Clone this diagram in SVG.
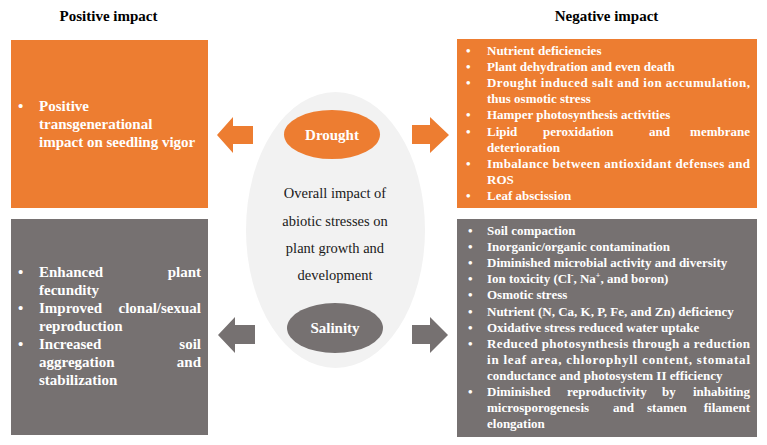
<svg xmlns="http://www.w3.org/2000/svg" width="767" height="445" viewBox="0 0 767 445">
<style>
.title{font-family:"Liberation Serif","Times New Roman",serif;font-weight:bold;font-size:15px;fill:#000;text-anchor:middle}
.b15{font-family:"Liberation Serif","Times New Roman",serif;font-weight:bold;font-size:15px;fill:#fff}
.b13{font-family:"Liberation Serif","Times New Roman",serif;font-weight:bold;font-size:13px;fill:#fff}
.ctr{font-family:"Liberation Serif","Times New Roman",serif;font-size:14.5px;fill:#1a1a1a;text-anchor:middle}
.lbl{font-family:"Liberation Serif","Times New Roman",serif;font-weight:bold;font-size:15px;fill:#fff;text-anchor:middle}
.end{text-anchor:end}
.or{fill:#ED7D31}
.gr{fill:#767171}
</style>
<rect width="767" height="445" fill="#fff"/>
<text class="title" x="108.5" y="21">Positive impact</text>
<text class="title" x="606.5" y="21">Negative impact</text>

<g id="center">
<ellipse cx="335.5" cy="230" rx="89.5" ry="138" fill="#F2F2F2"/>
<text class="ctr" x="335" y="198">Overall impact of</text>
<text class="ctr" x="335" y="226">abiotic stresses on</text>
<text class="ctr" x="335" y="253">plant growth and</text>
<text class="ctr" x="335" y="280">development</text>
</g>
<g id="drought">
<ellipse class="or" cx="332" cy="134.5" rx="48" ry="24.5"/>
<text class="lbl" x="332" y="140">Drought</text>
</g>
<g id="salinity">
<ellipse class="gr" cx="335" cy="328" rx="48" ry="25"/>
<text class="lbl" x="335" y="333">Salinity</text>
</g>

<g id="drought-positive">
<rect class="or" x="11" y="40" width="197" height="168"/>
<text class="b15" x="18" y="111">•</text>
<text class="b15" x="39" y="111">Positive</text>
<text class="b15" x="39" y="129">transgenerational</text>
<text class="b15" x="39" y="147">impact on seedling vigor</text>
</g>

<g id="salinity-positive">
<rect class="gr" x="11" y="219" width="197" height="216"/>
<text class="b15" x="18" y="277">•</text>
<text class="b15" x="39" y="277">Enhanced</text>
<text class="b15 end" x="201" y="277">plant</text>
<text class="b15" x="39" y="295">fecundity</text>
<text class="b15" x="18" y="313">•</text>
<text class="b15" x="39" y="313">Improved</text>
<text class="b15 end" x="201" y="313">clonal/sexual</text>
<text class="b15" x="39" y="331">reproduction</text>
<text class="b15" x="18" y="349">•</text>
<text class="b15" x="39" y="349">Increased</text>
<text class="b15 end" x="201" y="349">soil</text>
<text class="b15" x="39" y="367">aggregation</text>
<text class="b15 end" x="201" y="367">and</text>
<text class="b15" x="39" y="385">stabilization</text>
</g>

<g id="drought-negative">
<rect class="or" x="457" y="39" width="300" height="169"/>
<text class="b13" x="466" y="55">•</text>
<text class="b13" x="487" y="55">Nutrient deficiencies</text>
<text class="b13" x="466" y="71.1">•</text>
<text class="b13" x="487" y="71.1">Plant dehydration  and even death</text>
<text class="b13" x="466" y="87.2">•</text>
<text class="b13" x="487" y="87.2" textLength="263" lengthAdjust="spacing">Drought induced salt and ion accumulation,</text>
<text class="b13" x="487" y="103.3">thus osmotic stress</text>
<text class="b13" x="466" y="119.4">•</text>
<text class="b13" x="487" y="119.4">Hamper photosynthesis activities</text>
<text class="b13" x="466" y="135.5">•</text>
<text class="b13" x="487" y="135.5">Lipid</text>
<text class="b13" x="543" y="135.5">peroxidation</text>
<text class="b13" x="649" y="135.5">and</text>
<text class="b13 end" x="750" y="135.5">membrane</text>
<text class="b13" x="487" y="151.6">deterioration</text>
<text class="b13" x="466" y="167.7">•</text>
<text class="b13" x="487" y="167.7" textLength="263" lengthAdjust="spacing">Imbalance between antioxidant defenses and</text>
<text class="b13" x="487" y="183.8">ROS</text>
<text class="b13" x="466" y="199.9">•</text>
<text class="b13" x="487" y="199.9">Leaf abscission</text>
</g>

<g id="salinity-negative">
<rect class="gr" x="457" y="219" width="300" height="218"/>
<text class="b13" x="468" y="235">•</text>
<text class="b13" x="487" y="235">Soil compaction</text>
<text class="b13" x="468" y="251.1">•</text>
<text class="b13" x="487" y="251.1">Inorganic/organic contamination</text>
<text class="b13" x="468" y="267.2">•</text>
<text class="b13" x="487" y="267.2">Diminished microbial activity and diversity</text>
<text class="b13" x="468" y="283.3">•</text>
<text class="b13" x="487" y="283.3">Ion toxicity (Cl<tspan font-size="8" dy="-5">-</tspan><tspan dy="5">, Na</tspan><tspan font-size="8" dy="-5">+</tspan><tspan dy="5">, and boron)</tspan></text>
<text class="b13" x="468" y="299.4">•</text>
<text class="b13" x="487" y="299.4">Osmotic stress</text>
<text class="b13" x="468" y="315.5">•</text>
<text class="b13" x="487" y="315.5">Nutrient (N, Ca, K, P, Fe, and Zn) deficiency</text>
<text class="b13" x="468" y="331.6">•</text>
<text class="b13" x="487" y="331.6">Oxidative stress reduced water uptake</text>
<text class="b13" x="468" y="347.7">•</text>
<text class="b13" x="487" y="347.7" textLength="263" lengthAdjust="spacing">Reduced photosynthesis through a reduction</text>
<text class="b13" x="487" y="363.8" textLength="263" lengthAdjust="spacing">in leaf area, chlorophyll content, stomatal</text>
<text class="b13" x="487" y="379.9">conductance and photosystem II efficiency</text>
<text class="b13" x="468" y="396">•</text>
<text class="b13" x="487" y="396">Diminished</text>
<text class="b13" x="567" y="396">reproductivity</text>
<text class="b13" x="662" y="396">by</text>
<text class="b13 end" x="750" y="396">inhabiting</text>
<text class="b13" x="487" y="412.1">microsporogenesis</text>
<text class="b13" x="613" y="412.1">and</text>
<text class="b13" x="647" y="412.1">stamen</text>
<text class="b13 end" x="750" y="412.1">filament</text>
<text class="b13" x="487" y="428.2">elongation</text>
</g>

<g id="connectors">
<polygon class="or" points="217,135 233,117 233,126 253,126 253,144 233,144 233,153"/>
<polygon class="or" points="412,125 430,125 430,117 449,135 430,153 430,144 412,144"/>
<polygon class="gr" points="218,335 235,317 235,325 255,325 255,344 235,344 235,353"/>
<polygon class="gr" points="412,325 430,325 430,317 448,335 430,353 430,344 412,344"/>
</g>
</svg>
